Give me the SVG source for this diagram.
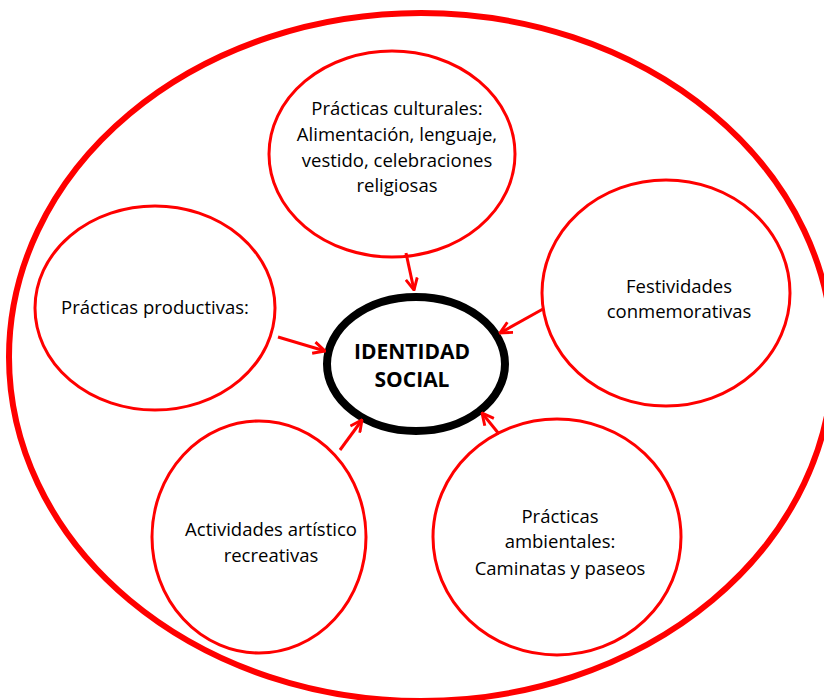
<svg xmlns="http://www.w3.org/2000/svg" width="824" height="700" viewBox="0 0 824 700">
<style>
.node{fill:#fff;stroke:#ff0000;stroke-width:3}
.t{font-family:"Open Sans","Liberation Sans",sans-serif;font-size:18.5px;fill:#000;text-anchor:middle}
.c{font-family:"Open Sans","Liberation Sans",sans-serif;font-size:21px;font-weight:bold;fill:#000;text-anchor:middle}
.arr{stroke:#ff0000;stroke-width:3;fill:none;marker-end:url(#ah)}
</style>
<defs>
<marker id="ah" viewBox="0 0 12 12" refX="11" refY="6" markerWidth="14" markerHeight="14" orient="auto" markerUnits="userSpaceOnUse">
<path d="M1,1 L11,6 L1,11" fill="none" stroke="#ff0000" stroke-width="2.5"/>
</marker>
</defs>
<rect width="824" height="700" fill="#fff"/>
<g id="outer"><ellipse cx="421" cy="357" rx="412" ry="344" fill="none" stroke="#ff0000" stroke-width="6"/></g>
<g id="culturales">
<ellipse class="node" cx="392" cy="154" rx="123" ry="103"/>
<text class="t" x="397" y="115">Prácticas culturales:</text>
<text class="t" x="397" y="141">Alimentación, lenguaje,</text>
<text class="t" x="397" y="167">vestido, celebraciones</text>
<text class="t" x="397" y="192">religiosas</text>
</g>
<g id="productivas">
<ellipse class="node" cx="155" cy="308" rx="120" ry="102"/>
<text class="t" x="155" y="314">Prácticas productivas:</text>
</g>
<g id="festividades">
<ellipse class="node" cx="666" cy="293" rx="124" ry="113"/>
<text class="t" x="679" y="293">Festividades</text>
<text class="t" x="679" y="318">conmemorativas</text>
</g>
<g id="actividades">
<ellipse class="node" cx="259" cy="537" rx="107" ry="116"/>
<text class="t" x="271" y="536">Actividades artístico</text>
<text class="t" x="271" y="562">recreativas</text>
</g>
<g id="ambientales">
<ellipse class="node" cx="557" cy="537" rx="124" ry="118"/>
<text class="t" x="560" y="523">Prácticas</text>
<text class="t" x="560" y="548">ambientales:</text>
<text class="t" x="560" y="575">Caminatas y paseos</text>
</g>
<g id="identidad">
<ellipse cx="416" cy="364" rx="89" ry="67" fill="#fff" stroke="#000" stroke-width="8"/>
<text class="c" x="412" y="359">IDENTIDAD</text>
<text class="c" x="412" y="387">SOCIAL</text>
</g>
<g id="connectors">
<line class="arr" x1="406" y1="253" x2="414" y2="290"/>
<line class="arr" x1="278" y1="337" x2="325" y2="351"/>
<line class="arr" x1="543" y1="309" x2="500" y2="333"/>
<line class="arr" x1="340" y1="450" x2="362" y2="420"/>
<line class="arr" x1="499" y1="434" x2="482" y2="413"/>
</g>
</svg>
